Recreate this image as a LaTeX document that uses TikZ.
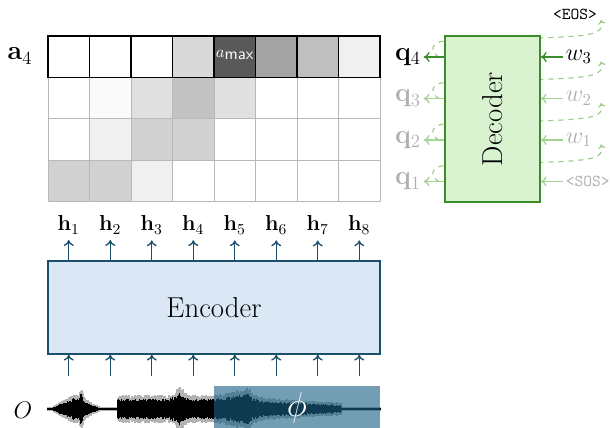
\documentclass[tikz,border=0pt]{standalone}
\usepackage{amsmath}
\usetikzlibrary{arrows.meta}

\definecolor{encfill}{HTML}{DAE8F5}
\definecolor{encline}{HTML}{1C4F6B}
\definecolor{decfill}{HTML}{D9F2D0}
\definecolor{decline}{HTML}{3C8C2C}
\definecolor{fadegreen}{HTML}{A6D496}
\definecolor{loopgreen}{HTML}{9CCB8A}
\definecolor{fadetext}{HTML}{B0B0B0}
\definecolor{tealshade}{HTML}{195F83}

% fette Vektoren mit Index
\newcommand{\vecsub}[2]{\textbf{#1}\textsubscript{#2}}

\tikzset{
    >={To[length=3.5pt, width=6pt]},
    gridline/.style={draw=black!28, line width=0.6pt},
    encbox/.style={draw=encline, fill=encfill, line width=0.9pt, font=\LARGE},
    decbox/.style={draw=decline, fill=decfill, line width=0.9pt, font=\LARGE},
    encarrow/.style={encline, line width=0.8pt, ->},
    loopline/.style={loopgreen, line width=0.7pt, dashed, -{To[length=2.5pt, width=4.5pt]}},
    biglabel/.style={font=\fontsize{16}{19}\selectfont},
    wave/.style={black, line width=0.7pt},
    wavegray/.style={black!30, line width=0.7pt}
}

\begin{document}
\begin{tikzpicture}[x=0.6pt, y=-0.6pt]
            \useasboundingbox (0,0) rectangle (610,428);
            % Pixelgröße und Zellgröße
            \def\px{0.6pt}
            \def\s{41.5}

            % Aufmerksamkeitsgewichte (Grauwerte, oberste Zeile = a_4)
            \def\shades{
                    {0,0,0,15,65,36,25,6},
                    {0,2,12,24,12,0,0,0},
                    {0,6,18,18,0,0,0,0},
                    {18,18,6,0,0,0,0,0},
            }

            % Zellen füllen
            \foreach \row [count=\i from 0] in \shades {
                \foreach \val [count=\j from 0] in \row {
                    \fill[black!\val] (48+\j*\s, 36+\i*\s) rectangle ++(\s,\s);
                }
            }

            % Rasterlinien
            \foreach \k in {0,...,8} {
                \draw[gridline] (48+\k*\s, 36) -- (48+\k*\s, 202);
            }
            \foreach \k in {1,...,4} {
                \draw[gridline] (48, 36+\k*\s) -- (380, 36+\k*\s);
            }
            \draw[black, line width=0.8pt] (48,36) rectangle (380,36+\s);
            \foreach \k in {1,...,7} {
                \draw[black, line width=0.8pt] (48+\k*\s, 36) -- (48+\k*\s, 36+\s);
            }

            \node[biglabel] (alabel) at (20,56) {\vecsub{a}{4}};
            \node[text=white] (amax) at (234.75,55) {$a$\raisebox{-1.5pt}{\textsf{max}}};

            % Encoder
            \node[encbox, minimum width=332*\px, minimum height=93*\px] (enc) at (214,307.5) {Encoder};
            \foreach \i in {1,...,8} {
                \node[anchor=base, font=\fontsize{13}{16}\selectfont] (h\i) at (48+\i*\s-0.5*\s, 231) {\vecsub{h}{\i}};
                \draw[encarrow] (enc.north -| h\i) -- (h\i.south);
                \coordinate (in\i) at (48+\i*\s-0.5*\s, 376);
                \draw[encarrow] (in\i) -- (in\i |- enc.south);
            }

            % Signal
            \pgfmathsetseed{3}
            \foreach \x in {48,...,380} {
                \pgfmathsetmacro\amp{1
                    + 10*max(0,1-abs(\x-76)/24) + 9*max(0,1-abs(\x-82)/3)
                    + (\x>117)*(\x<214)*9 + 6*max(0,1-abs(\x-180)/10)
                    + (\x>=214)*(\x<342)*(3+6*(342-\x)/128)
                    + 5*max(0,1-abs(\x-240)/25) + 6*max(0,1-abs(\x-248)/5)}
                \pgfmathsetmacro\ga{\amp*(1.0+0.35*rnd)+1}
                \pgfmathsetmacro\ba{\amp*(0.75+0.3*rnd)}
                \draw[wavegray] (\x,409-\ga) -- (\x,409+\ga);
                \draw[wave] (\x,409-\ba) -- (\x,409+\ba);
            }
            \fill[tealshade, opacity=0.61] (214,386) rectangle (380,428);
            \node[text=white, font=\huge] (phi) at (297,408) {$\phi$};
            \node[font=\Large] (obs) at (23,410) {$O$};

            % Rückkopplung (hinter dem Decoder)
            \foreach \i/\y in {1/181.5, 2/140, 3/98.5, 4/57} {
                \coordinate (ls\i) at (439,\y);
                \coordinate (re\i) at (601,\y-37);
                \draw[loopline] (ls\i) .. controls (429,\y-5) and (431,\y-16) .. (446,\y-16)
                    -- (540,\y-19) .. controls (594,\y-21) and (604,\y-23) .. (re\i);
            }

            % Decoder
            \node[decbox, minimum width=95*\px, minimum height=166*\px] (dec) at (492.5,119) {\rotatebox{90}{Decoder}};

            \foreach \i/\y/\tc/\ac/\win in {1/181.5/fadetext/fadegreen/{\texttt{<SOS>}},
                    2/140/fadetext/fadegreen/{\Large$w_1$}, 3/98.5/fadetext/fadegreen/{\Large$w_2$}, 4/57/black/decline/{\Large$w_3$}} {
                \node[text=\tc, inner sep=1.5pt, biglabel] (q\i) at (408,\y) {\vecsub{q}{\i}};
                \node[text=\tc, anchor=west, inner sep=1.5pt] (w\i) at (563,\y) {\win};
                \draw[\ac, line width=0.8pt, ->] (dec.west |- q\i) -- (q\i.east);
                \draw[\ac, line width=0.8pt, ->] (w\i.west) -- (dec.east |- w\i);
            }
            \node (eos) at (575,14) {\texttt{<EOS>}};
        \end{tikzpicture}
\end{document}
